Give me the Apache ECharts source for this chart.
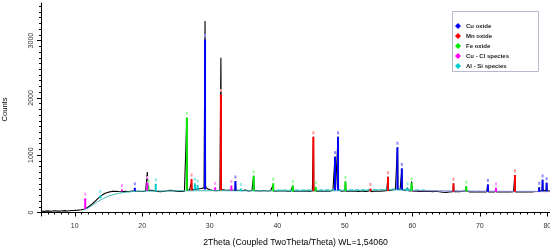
<!DOCTYPE html>
<html>
<head>
<meta charset="utf-8">
<script src="https://cdn.jsdelivr.net/npm/echarts@6.0.0/dist/echarts.min.js"></script>
<style>
html,body{margin:0;padding:0;background:#fff;}
#chart{width:550px;height:247px;}
</style>
</head>
<body>
<div id="chart"></div>
<script>
// ---- data ----
var pattern = [
[5,25],[5.5,20],[6,28],[6.5,22],[7,30],[7.5,24],[8,27],[8.5,32],[9,26],[9.5,35],[10,38],[10.5,42],[11,48],[11.5,62],
[12,95],[12.5,140],[13,195],[13.5,250],[14,300],[14.5,335],[15,355],[15.5,368],
[16,372],[16.25,384],[16.5,366],[16.75,380],[17,362],[17.25,388],[17.5,370],[17.75,382],[18,365],[18.25,391],[18.5,374],[18.75,385],
[19,368],[19.25,380],[19.5,372],[19.75,389],[20,366],[20.25,384],[20.5,375],[20.67,380],[20.75,705],[20.83,385],[21,370],[21.25,386],
[21.5,364],[21.75,381],[22,392],[22.25,368],[22.5,379],[22.75,362],[23,384],[23.25,370],[23.5,360],[23.75,381],[24,372],[24.25,386],
[24.5,365],[24.75,378],[25,388],[25.25,366],[25.5,377],[25.75,369],[26,383],[26.25,372],[26.52,385],[26.6,1650],[26.68,390],[26.75,376],
[27,392],[27.22,388],[27.3,540],[27.38,392],[27.5,380],[27.75,402],[28,388],[28.25,412],[28.5,395],[28.75,418],[29,404],[29.15,430],
[29.22,450],[29.3,3340],[29.38,460],[29.5,425],[29.75,412],[30,396],[30.25,404],[30.5,384],[30.75,398],[31,380],[31.25,395],[31.5,388],
[31.57,395],[31.65,2700],[31.73,400],[31.85,392],[32,378],[32.25,392],[32.5,370],[32.75,386],[33,376],[33.25,394],[33.5,372],[33.72,385],
[33.8,540],[33.88,385],[34,372],[34.25,388],[34.5,366],[34.75,381],[35,374],[35.25,390],[35.5,362],[35.75,378],[36,370],[36.25,385],
[36.42,378],[36.5,640],[36.58,380],[36.75,368],[37,382],[37.25,360],[37.5,376],[37.75,368],[38,384],[38.25,362],[38.5,374],[38.75,366],
[39,380],[39.25,370],[39.32,372],[39.4,480],[39.48,370],[39.75,362],[40,378],[40.25,358],[40.5,374],[40.75,364],[41,380],[41.25,360],
[41.5,372],[41.75,356],[42,370],[42.22,365],[42.3,470],[42.38,368],[42.5,360],[42.75,376],[43,364],[43.25,372],[43.5,355],[43.75,370],
[44,362],[44.25,378],[44.5,358],[44.75,369],[45,362],[45.2,375],[45.27,372],[45.35,1320],[45.43,378],[45.55,370],[45.65,372],[45.7,420],
[45.75,370],[46,362],[46.25,374],[46.5,356],[46.75,370],[47,360],[47.25,376],[47.5,362],[47.75,372],[48,365],[48.25,390],[48.47,395],
[48.55,975],[48.63,400],[48.75,405],[48.92,400],[49,1320],[49.08,398],[49.25,385],[49.5,372],[49.75,380],[50.02,375],[50.1,540],[50.18,372],
[50.25,362],[50.5,374],[50.75,358],[51,370],[51.25,360],[51.5,376],[51.75,355],[52,368],[52.25,362],[52.5,375],[52.75,356],[53,368],
[53.25,360],[53.5,372],[53.72,368],[53.8,400],[53.88,365],[54,358],[54.25,372],[54.5,362],[54.75,376],[55,358],[55.25,370],[55.5,364],
[55.75,378],[56,366],[56.2,380],[56.32,378],[56.4,625],[56.48,382],[56.75,376],[57,392],[57.25,384],[57.5,402],[57.72,405],[57.8,1140],
[57.88,408],[58,395],[58.2,402],[58.37,398],[58.45,770],[58.53,396],[58.75,388],[59,380],[59.22,385],[59.3,430],[59.38,380],[59.6,374],
[59.82,378],[59.9,540],[59.98,376],[60.25,362],[60.5,372],[60.75,355],[61,368],[61.25,358],[61.5,372],[61.75,352],[62,366],[62.25,356],
[62.5,370],[62.75,350],[63,364],[63.25,358],[63.5,372],[63.75,352],[64,362],[64.25,370],[64.5,354],[64.75,366],[65,350],[65.25,364],
[65.5,358],[65.75,370],[66.02,365],[66.1,510],[66.18,362],[66.25,356],[66.5,368],[66.75,352],[67,364],[67.25,358],[67.5,372],[67.75,380],
[67.92,378],[68,460],[68.08,375],[68.25,368],[68.5,360],[68.75,350],[69,362],[69.25,346],[69.5,358],[69.75,344],[70,360],[70.25,350],
[70.5,362],[70.75,348],[71,358],[71.12,360],[71.2,490],[71.28,358],[71.5,350],[71.75,362],[72,348],[72.2,358],[72.32,360],[72.4,400],
[72.48,358],[72.75,346],[73,360],[73.25,345],[73.5,358],[73.75,350],[74,362],[74.25,346],[74.5,360],[74.75,352],[75,364],[75.12,360],
[75.2,655],[75.28,358],[75.5,350],[75.75,362],[76,346],[76.25,358],[76.5,348],[76.75,362],[77,350],[77.25,360],[77.5,346],[77.75,358],
[78,352],[78.25,366],[78.5,372],[78.72,370],[78.8,440],[78.88,372],[79.05,380],[79.22,382],[79.3,570],[79.38,385],[79.6,388],[79.82,385],
[79.9,520],[79.98,382],[80.2,372],[80.4,368]
];
var background = [[11.3,45],[12,80],[13,160],[14,230],[15,285],[16,320],[17,345],[18,360],[19,368],[20,372],[25,378],[30,380],[40,378],[50,380],[57,395],[60,385],[70,372],[80.4,368]];
var alsiTrace = [[40,392],[45,395],[50,398],[55,400],[57,410],[58,412],[60,398],[62,392]];
var cuclTrace = [[60,378],[65,372],[70,368],[75,365],[80.4,362]];

// peaks: [2theta, base, top]
var cuOxide = [[18.9,375,430],[29.3,400,3020],[33.8,380,550],[48.55,390,975],[49.0,390,1320],[57.8,400,1140],[58.45,400,770],[71.2,360,490],[78.8,360,440],[79.3,370,570],[79.9,370,520]];
var mnOxide = [[27.3,385,585],[31.65,390,2060],[45.35,372,1320],[53.8,365,420],[56.4,375,625],[66.1,368,510],[75.2,360,655]];
var feOxide = [[20.9,380,470],[26.6,385,1660],[36.5,378,640],[39.4,370,510],[42.3,365,470],[45.7,372,450],[50.1,375,540],[59.9,380,520],[68.0,365,460]];
var cuClSpecies = [[11.55,60,250],[17.0,370,400],[20.75,380,540],[30.8,390,440],[33.2,380,470],[72.4,360,430]];
var alSiSpecies = [[13.8,250,300],[22.0,380,500],[27.8,395,510],[28.2,395,480],[34.6,375,420],[59.3,390,430]];

var phaseNames = ['Cu oxide','Mn oxide','Fe oxide','Cu - Cl species','Al - Si species'];
var xLabels = [10,20,30,40,50,60,70,80];
var xMinorTicks = [5,6,7,8,9,11,12,13,14,15,16,17,18,19,21,22,23,24,25,26,27,28,29,31,32,33,34,35,36,37,38,39,41,42,43,44,45,46,47,48,49,51,52,53,54,55,56,57,58,59,61,62,63,64,65,66,67,68,69,71,72,73,74,75,76,77,78,79];
var yLabels = [0,1000,2000,3000];
var yMinorTicks = [100,200,300,400,500,600,700,800,900,1100,1200,1300,1400,1500,1600,1700,1800,1900,2100,2200,2300,2400,2500,2600,2700,2800,2900,3100,3200,3300,3400,3500,3600];

// ---- chart ----
var chart = echarts.init(document.getElementById('chart'), null, {renderer:'canvas'});
function phaseData(peaks, markColor){
  var out = [];
  peaks.forEach(function(p){
    out.push({value:[p[0],p[1]], symbol:'none'});
    out.push({value:[p[0],p[2]], symbol:'rect', symbolSize:[2,3], symbolOffset:[0,-4], itemStyle:{color:markColor}});
    out.push({value:[p[0],'-'], symbol:'none'});
  });
  return out;
}
function phaseSeries(name, peaks, color, markColor){
  return {
    name:name, type:'line', xAxisIndex:0, yAxisIndex:0, data:phaseData(peaks, markColor),
    connectNulls:false, symbol:'rect', showSymbol:true, z:5,
    lineStyle:{color:color, width:2}, itemStyle:{color:color},
    emphasis:{disabled:true}, silent:true
  };
}
var FONT = 'Liberation Sans, Arial, sans-serif';
var option = {
  animation:false,
  grid:{left:41, right:0, top:3, bottom:31, containLabel:false, outerBoundsMode:'none'},
  legend:{
    orient:'vertical', left:455, top:23, padding:0, icon:'diamond', itemWidth:6, itemHeight:6, itemGap:4, z:50,
    data:phaseNames, selectedMode:false,
    textStyle:{fontFamily:FONT, fontSize:6, fontWeight:'bold', color:'#222'}
  },
  graphic:[{type:'rect', z:1, shape:{x:452.5, y:11.5, width:86, height:60}, style:{fill:'#fff', stroke:'#b4bccc', lineWidth:1}}],
  xAxis:[{
    type:'value', min:5, max:80.4,
    axisLine:{show:true, lineStyle:{color:'#000', width:1}},
    axisTick:{show:true, customValues:xLabels, length:4, lineStyle:{color:'#000'}},
    axisLabel:{customValues:xLabels, margin:7, fontFamily:FONT, fontSize:7, color:'#333'},
    splitLine:{show:false},
    name:'2Theta (Coupled TwoTheta/Theta) WL=1,54060', nameLocation:'middle', nameGap:22,
    nameTextStyle:{fontFamily:FONT, fontSize:8.7, color:'#000'}
  },{
    type:'value', min:5, max:80.4, position:'bottom',
    axisLine:{show:false}, axisLabel:{show:false}, splitLine:{show:false},
    axisTick:{show:true, customValues:xMinorTicks, length:2, lineStyle:{color:'#000'}}
  }],
  yAxis:[{
    type:'value', min:-61, max:3656,
    axisLine:{show:true, lineStyle:{color:'#000', width:1}},
    axisTick:{show:true, customValues:yLabels, length:4, lineStyle:{color:'#000'}},
    axisLabel:{customValues:yLabels, rotate:90, margin:6, fontFamily:FONT, fontSize:7, color:'#333',
      formatter:function(v){return String(v);}},
    splitLine:{show:false},
    name:'Counts', nameLocation:'middle', nameGap:32, nameRotate:90,
    nameTextStyle:{fontFamily:FONT, fontSize:7.5, color:'#000'}
  },{
    type:'value', min:-61, max:3656, position:'left',
    axisLine:{show:false}, axisLabel:{show:false}, splitLine:{show:false},
    axisTick:{show:true, customValues:yMinorTicks, length:2, lineStyle:{color:'#000'}}
  }],
  series:[
    {name:'pattern', type:'line', data:pattern, symbol:'none', z:2, silent:true,
     lineStyle:{color:'#000', width:1.1}},
    {name:'background', type:'line', data:background, symbol:'none', z:3, silent:true, smooth:0.4,
     lineStyle:{color:'#3fb8b8', width:1}},
    {name:'alsiTrace', type:'line', data:alsiTrace, symbol:'none', z:3, silent:true,
     lineStyle:{color:'#30c8c8', width:1, type:'dashed'}},
    {name:'cuclTrace', type:'line', data:cuclTrace, symbol:'none', z:3, silent:true,
     lineStyle:{color:'#e040e0', width:1, type:'dotted'}},
    phaseSeries('Cu oxide', cuOxide, '#0000ff', '#8c8cff'),
    phaseSeries('Mn oxide', mnOxide, '#ff0000', '#ff9a9a'),
    phaseSeries('Fe oxide', feOxide, '#00ee00', '#9aff9a'),
    phaseSeries('Cu - Cl species', cuClSpecies, '#ff00ff', '#ff9aff'),
    phaseSeries('Al - Si species', alSiSpecies, '#00cccc', '#8ae8e8')
  ]
};
chart.setOption(option);
</script>
</body>
</html>
